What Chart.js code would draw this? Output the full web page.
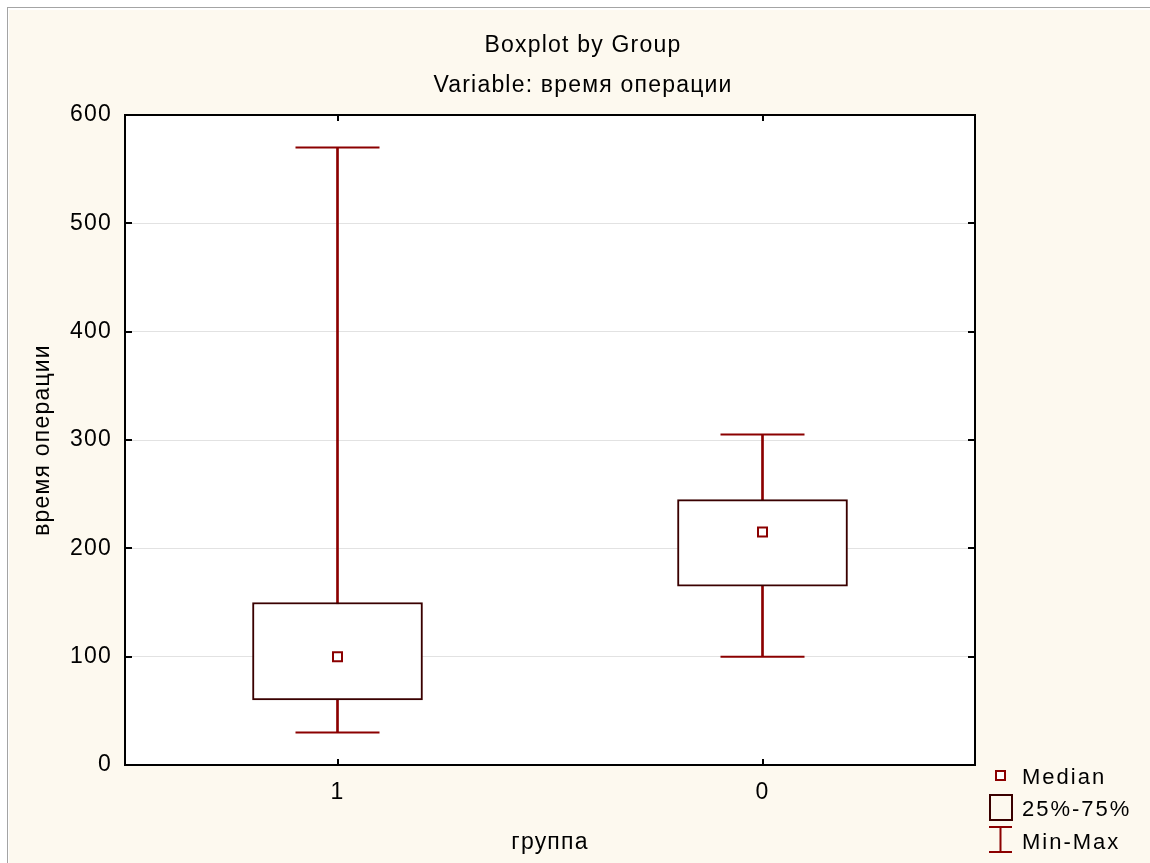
<!DOCTYPE html>
<html><head><meta charset="utf-8">
<script src="https://cdn.jsdelivr.net/npm/chart.js@4.4.1/dist/chart.umd.min.js"></script>
<style>
html,body{margin:0;padding:0;background:#fff;width:1150px;height:863px;overflow:hidden}
#frame{position:absolute;left:7px;top:7px;width:1143px;height:856px;border-left:1px solid #a4a4a4;border-top:1px solid #a4a4a4;background:#fff}
#cream{position:absolute;left:9px;top:10px;width:1141px;height:853px;background:#FDF9EF}
#wrap{position:absolute;left:0;top:0;width:1150px;height:863px}
</style></head><body>
<div id="frame"></div><div id="cream"></div>
<div id="wrap"><canvas id="c" width="1150" height="863"></canvas></div>
<script>
// ---- data ----
const categories = ['1', '0'];
const minValues = [30, 100];
const q1Values = [60, 165];
const medianValues = [100, 215];
const q3Values = [150, 245];
const maxValues = [570, 305];
const yTicks = [0, 100, 200, 300, 400, 500, 600];
const chartTitle = ['Boxplot by Group', 'Variable: время операции'];
const xTitle = 'группа';
const yTitle = 'время операции';
const legendLabels = ['Median', '25%-75%', 'Min-Max'];

// ---- styles ----
const WHISKER = '#8B0000';
const BOXLINE = '#3A0000';
const FONT = 'Liberation Sans, Arial, sans-serif';

const framePlugin = {
  id: 'frame',
  beforeLayout(chart) { chart.ctx.letterSpacing = '1px'; },
  beforeDraw(chart) {
    const {ctx, chartArea: a} = chart;
    ctx.letterSpacing = '1.2px';
    ctx.save();
    ctx.fillStyle = '#ffffff';
    ctx.fillRect(a.left, a.top, a.right - a.left, a.bottom - a.top);
    ctx.restore();
  },
  afterDatasetsDraw(chart) {
    const {ctx, chartArea: a, scales} = chart;
    ctx.save();
    ctx.strokeStyle = '#000';
    ctx.lineWidth = 2;
    ctx.strokeRect(a.left, a.top, a.right - a.left, a.bottom - a.top);
    ctx.beginPath();
    scales.y.ticks.forEach(t => {
      const py = Math.round(scales.y.getPixelForValue(t.value));
      ctx.moveTo(a.left, py); ctx.lineTo(a.left + 7, py);
      ctx.moveTo(a.right, py); ctx.lineTo(a.right - 7, py);
    });
    categories.forEach((c, i) => {
      const px = Math.round(scales.x.getPixelForValue(i));
      ctx.moveTo(px, a.bottom); ctx.lineTo(px, a.bottom - 6);
      ctx.moveTo(px, a.top); ctx.lineTo(px, a.top + 6);
    });
    ctx.stroke();
    ctx.restore();
  },
  afterDraw(chart) {
    const {ctx, chartArea: a} = chart;
    const x0 = a.right + 14, b = a.bottom;
    ctx.save();
    ctx.lineWidth = 2;
    // Median icon
    ctx.fillStyle = '#fff';
    ctx.strokeStyle = WHISKER;
    ctx.fillRect(x0 + 7, b + 6, 9, 9);
    ctx.strokeRect(x0 + 7, b + 6, 9, 9);
    // Box icon
    ctx.strokeStyle = BOXLINE;
    ctx.strokeRect(x0 + 1, b + 30, 22, 25);
    // Min-Max icon
    ctx.strokeStyle = WHISKER;
    ctx.beginPath();
    ctx.moveTo(x0, b + 62); ctx.lineTo(x0 + 23, b + 62);
    ctx.moveTo(x0, b + 87); ctx.lineTo(x0 + 23, b + 87);
    ctx.moveTo(x0 + 11.5, b + 62); ctx.lineTo(x0 + 11.5, b + 87);
    ctx.stroke();
    ctx.letterSpacing = '2px';
    ctx.fillStyle = '#000';
    ctx.font = '22px ' + FONT;
    ctx.textAlign = 'left';
    ctx.textBaseline = 'alphabetic';
    ctx.fillText(legendLabels[0], x0 + 33, b + 19);
    ctx.fillText(legendLabels[1], x0 + 33, b + 51);
    ctx.fillText(legendLabels[2], x0 + 33, b + 84);
    ctx.restore();
  }
};

new Chart(document.getElementById('c'), {
  data: {
    labels: categories,
    datasets: [
      {
        type: 'bar', label: 'Min-Max',
        data: categories.map((c, i) => [minValues[i], maxValues[i]]),
        backgroundColor: WHISKER, borderWidth: 0,
        barThickness: 2, grouped: false, order: 3
      },
      {
        type: 'bar', label: '25%-75%',
        data: categories.map((c, i) => [q1Values[i], q3Values[i]]),
        backgroundColor: '#ffffff', borderColor: BOXLINE, borderWidth: 2,
        borderSkipped: false, barThickness: 170, grouped: false, order: 2
      },
      {
        type: 'line', label: 'Min', data: minValues, showLine: false,
        pointStyle: 'line', pointRadius: 42, pointHoverRadius: 42,
        pointBorderWidth: 2, borderColor: WHISKER, order: 1
      },
      {
        type: 'line', label: 'Max', data: maxValues, showLine: false,
        pointStyle: 'line', pointRadius: 42, pointHoverRadius: 42,
        pointBorderWidth: 2, borderColor: WHISKER, order: 1
      },
      {
        type: 'line', label: 'Median', data: medianValues, showLine: false,
        pointStyle: 'rect', pointRadius: 6.4, pointHoverRadius: 6.4,
        pointBorderWidth: 2, borderColor: WHISKER, backgroundColor: '#ffffff',
        pointBackgroundColor: '#ffffff', order: 0
      }
    ]
  },
  options: {
    responsive: false,
    animation: false,
    devicePixelRatio: 1,
    layout: {padding: {left: 16, right: 0, top: 0, bottom: 0}},
    plugins: {
      legend: {display: false},
      tooltip: {enabled: false},
      title: {
        display: true, text: chartTitle, color: '#000',
        font: {family: FONT, size: 23, weight: 'normal', lineHeight: 40 / 23},
        padding: {top: 25.5, bottom: 9.5}
      }
    },
    scales: {
      x: {
        type: 'category', position: 'bottom', offset: true,
        grid: {display: false, drawTicks: false},
        border: {display: false},
        ticks: {color: '#000', padding: 14, font: {family: FONT, size: 23}},
        title: {display: true, text: xTitle, color: '#000', font: {family: FONT, size: 23}, padding: {top: 0, bottom: 7}},
        afterFit: s => { s.height = 98; }
      },
      y: {
        type: 'linear', position: 'left', min: 0, max: 600,
        afterBuildTicks: s => { s.ticks = yTicks.map(v => ({value: v})); },
        grid: {color: '#e2e2e2', lineWidth: 1, drawTicks: false},
        border: {display: false},
        ticks: {color: '#000', padding: 13, font: {family: FONT, size: 23}},
        title: {display: true, text: yTitle, color: '#000', font: {family: FONT, size: 23}, padding: {top: 13, bottom: 0}},
        afterFit: s => { s.width = 109; }
      },
      y2: {
        type: 'linear', position: 'right', min: 0, max: 600,
        grid: {display: false, drawTicks: false}, border: {display: false},
        ticks: {display: false},
        afterFit: s => { s.width = 175; }
      }
    }
  },
  plugins: [framePlugin]
});
</script>
</body></html>
